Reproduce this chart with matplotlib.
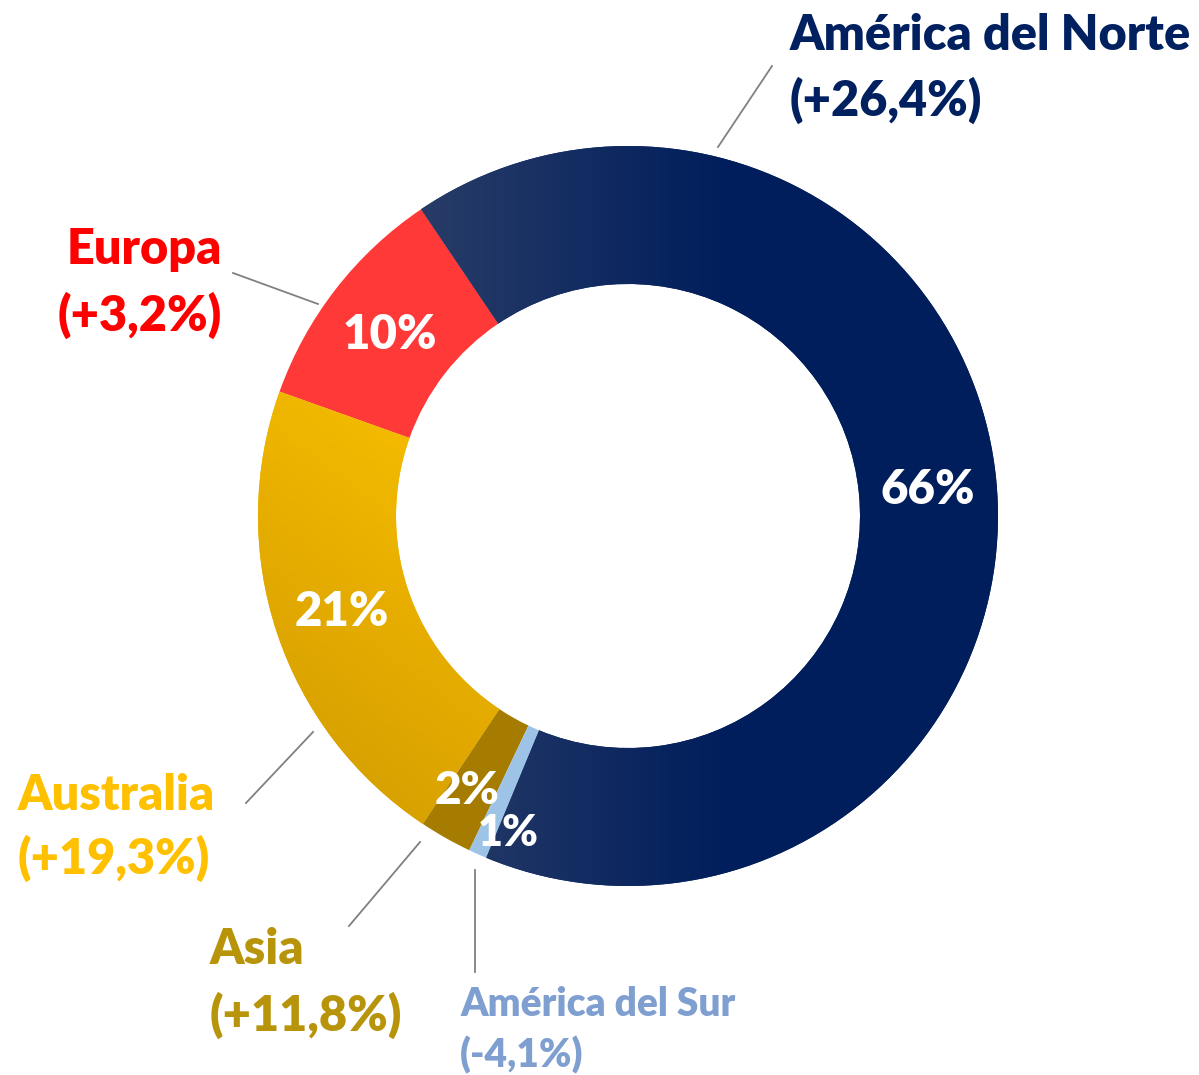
import numpy as np
import matplotlib.pyplot as plt
from matplotlib.colors import LinearSegmentedColormap

# share of each region (counterclockwise from the top-left boundary)
regions = ['Europa', 'Australia', 'Asia', 'América del Sur', 'América del Norte']
shares = [10.1, 21.1, 2.3, 0.8, 65.7]
pct_labels = ['10%', '21%', '2%', '1%', '66%']
growth = ['(+3,2%)', '(+19,3%)', '(+11,8%)', '(-4,1%)', '(+26,4%)']
colors = ['#FF3838', '#EDB400', '#A67C00', '#9DC3E6', '#0A2562']
text_colors = ['#FF0000', '#FFC000', '#B8940A', '#7F9FD0', '#002060']

W, H = 1199, 1075
fig = plt.figure(figsize=(W / 100, H / 100), dpi=100)
ax = fig.add_axes([0, 0, 1, 1])

def P(x, y):
    # pixel position (top-left origin) -> data coords
    return x, H - y

cx, cy = P(628, 516)
R = 370
wedges, _ = ax.pie(shares, colors=colors, startangle=124, counterclock=True,
                   radius=R, center=(cx, cy),
                   wedgeprops=dict(width=138, linewidth=0))

# gradient fill for América del Norte (horizontal) and Australia (diagonal)
xs = np.linspace(0, 1, 400)
X, Y = np.meshgrid(xs, xs)
ext = [cx - R, cx + R, cy - R, cy + R]

cmap_n = LinearSegmentedColormap.from_list('n', ['#283C67', '#001E5C'])
g = np.clip((X - 0.22) / 0.42, 0, 1)
im = ax.imshow(g, extent=ext, origin='lower', cmap=cmap_n, vmin=0, vmax=1, zorder=2)
im.set_clip_path(wedges[4])

cmap_a = LinearSegmentedColormap.from_list('a', ['#D09C00', '#E3AA00', '#F3BA00'])
g2 = np.clip((0.6 * X + 0.8 * Y - 0.1) / 0.5, 0, 1)
im2 = ax.imshow(g2, extent=ext, origin='lower', cmap=cmap_a, vmin=0, vmax=1, zorder=2)
im2.set_clip_path(wedges[1])

# percent labels inside the ring
pct_pos = [(390, 335), (342, 612), (467, 790), (508, 833), (928, 490)]
pct_size = [34, 34, 33, 31, 34]
for lab, (px, py), fs in zip(pct_labels, pct_pos, pct_size):
    ax.text(*P(px, py), lab, color='white', fontsize=fs, fontweight='heavy',
            family='Lato', ha='center', va='center', zorder=5)

# outer labels with leader lines
lines = [((318, 304), (233, 273)), ((313, 732), (246, 803)),
         ((420, 842), (349, 926)), ((475, 870), (475, 972)),
         ((718, 147), (772, 66))]
for (a, b) in lines:
    ax.plot(*zip(P(*a), P(*b)), color='#808080', lw=1.3, zorder=4)

lab_pos = [(222, 250, 'right'), (18, 795, 'left'), (210, 950, 'left'),
           (460, 1005, 'left'), (790, 35, 'left')]
lab_size = [35, 35, 35, 28, 35]
gap = [65, 63, 65, 50, 65]
for name, gr, c, (px, py, ha), fs, dy in zip(regions, growth, text_colors, lab_pos, lab_size, gap):
    ax.text(*P(px, py), name, color=c, fontsize=fs, fontweight='heavy',
            family='Lato', ha=ha, va='center')
    ax.text(*P(px, py + dy), gr, color=c, fontsize=fs, fontweight='heavy',
            family='Lato', ha=ha, va='center')

ax.set_xlim(0, W)
ax.set_ylim(0, H)
ax.set_aspect('equal')
ax.axis('off')
fig.savefig('out.png', dpi=100)
